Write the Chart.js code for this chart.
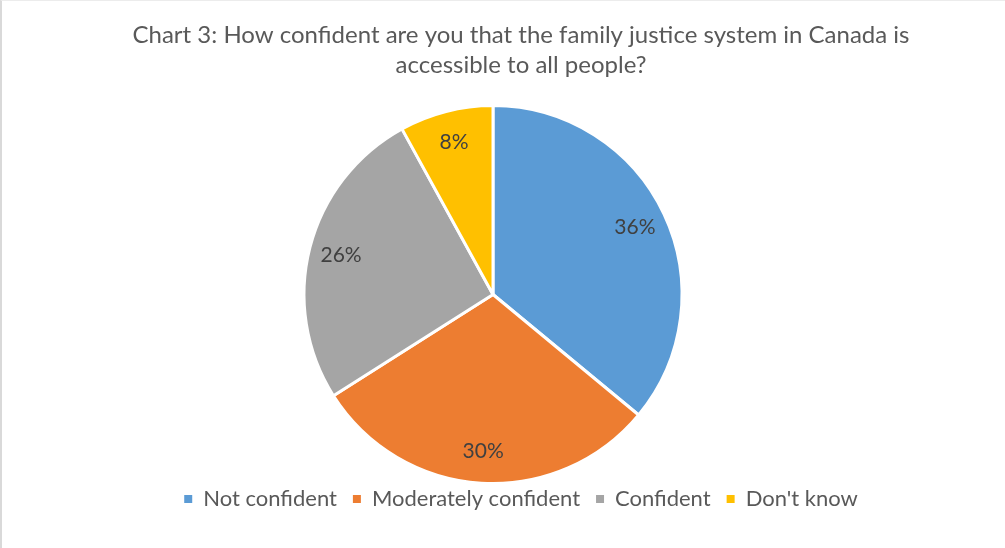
<!DOCTYPE html>
<html>
<head>
<meta charset="utf-8">
<script src="https://cdn.jsdelivr.net/npm/chart.js@4"></script>
<style>
  html, body { margin: 0; padding: 0; background: #fff; overflow: hidden; }
  .frame { position: absolute; left: 0; top: 0; width: 1005px; height: 548px; box-sizing: border-box;
           border-left: 2px solid #d9d9d9; border-top: 1px solid #ececec; pointer-events: none; }
  .wrap { position: absolute; left: 0; top: 0; width: 1042px; height: 548px; }
</style>
</head>
<body>
<div class="wrap"><canvas id="chart3" width="1042" height="548"></canvas></div>
<div class="frame"></div>
<script>
var titleLines = ['Chart 3: How confident are you that the family justice system in Canada is', 'accessible to all people?'];
var categories = ['Not confident', 'Moderately confident', 'Confident', "Don't know"];
var shares = [36, 30, 26, 8];
var colors = ['#5B9BD5', '#ED7D31', '#A5A5A5', '#FFC000'];

// pie sits a bit left of the title / legend centre and reaches close to the legend
var shiftPie = {
  id: 'shiftPie',
  afterLayout: function(chart) {
    var a = chart.chartArea;
    a.right -= 56;
    a.width = a.right - a.left;
    a.bottom += 13;
    a.height = a.bottom - a.top;
  }
};

// percentage labels inside each slice
var sliceLabels = {
  id: 'sliceLabels',
  afterDatasetsDraw: function(chart) {
    var ctx = chart.ctx;
    var meta = chart.getDatasetMeta(0);
    ctx.save();
    ctx.font = '21px Lato, sans-serif';
    ctx.fillStyle = '#404040';
    ctx.textAlign = 'center';
    ctx.textBaseline = 'middle';
    meta.data.forEach(function(arc, i) {
      var p = arc.getProps(['x', 'y', 'startAngle', 'endAngle', 'outerRadius'], true);
      var mid = (p.startAngle + p.endAngle) / 2;
      var r = p.outerRadius * 0.83;
      ctx.fillText(shares[i] + '%', p.x + Math.cos(mid) * r, p.y + Math.sin(mid) * r);
    });
    ctx.restore();
  }
};

var ctx = document.getElementById('chart3');
new Chart(ctx, {
  type: 'pie',
  data: {
    labels: categories,
    datasets: [{
      data: shares,
      backgroundColor: colors,
      borderColor: '#ffffff',
      borderWidth: 3
    }]
  },
  options: {
    responsive: false,
    animation: false,
    devicePixelRatio: 1,
    layout: { padding: { top: 0, bottom: 28 } },
    plugins: {
      tooltip: { enabled: false },
      title: {
        display: true,
        text: titleLines,
        color: '#595959',
        font: { family: 'Lato, sans-serif', size: 24, weight: 'normal', lineHeight: 1.25 },
        padding: { top: 20, bottom: 24 }
      },
      legend: {
        position: 'bottom',
        labels: {
          color: '#595959',
          font: { family: 'Lato, sans-serif', size: 22 },
          boxWidth: 8,
          boxHeight: 8,
          padding: 16,
          generateLabels: function(chart) {
            return Chart.overrides.pie.plugins.legend.labels.generateLabels(chart).map(function(l) {
              l.lineWidth = 0;
              l.strokeStyle = 'rgba(0,0,0,0)';
              return l;
            });
          }
        }
      }
    }
  },
  plugins: [shiftPie, sliceLabels]
});
</script>
</body>
</html>
